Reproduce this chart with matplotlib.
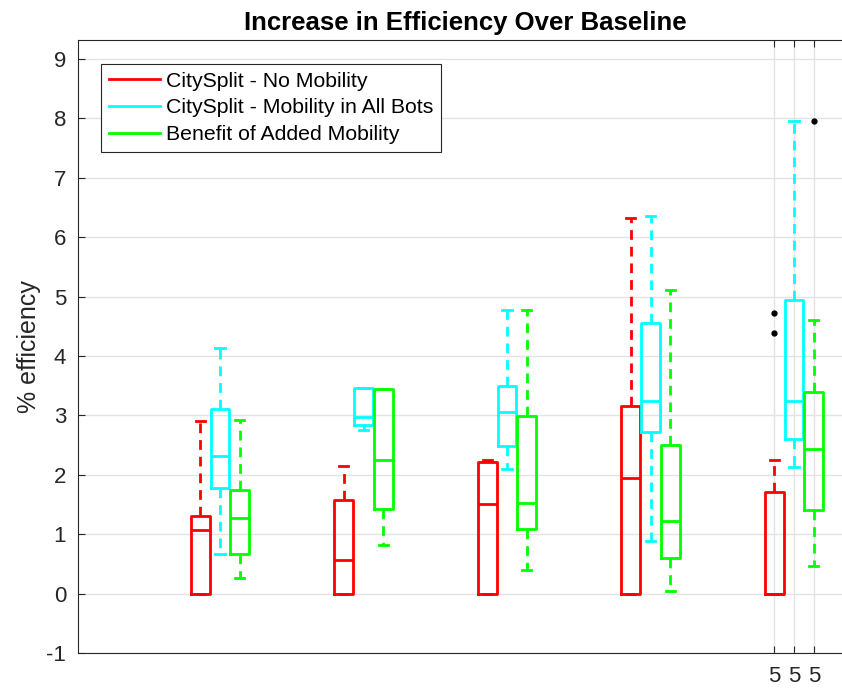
import matplotlib
matplotlib.use("Agg")
import matplotlib.pyplot as plt
from matplotlib.lines import Line2D

plt.rcParams['font.family'] = ['Liberation Sans', 'DejaVu Sans']

groups = [1, 2, 3, 4, 5]
series_names = ["CitySplit - No Mobility", "CitySplit - Mobility in All Bots", "Benefit of Added Mobility"]
series_colors = ["#ff0000", "#00ffff", "#00ff00"]

# per group: whislo, q1, median, q3, whishi
no_mobility = [
    [0.00, 0.00, 1.07, 1.30, 2.90],
    [0.00, 0.00, 0.56, 1.58, 2.15],
    [0.00, 0.00, 1.51, 2.21, 2.25],
    [0.00, 0.00, 1.95, 3.16, 6.32],
    [0.00, 0.00, 0.00, 1.71, 2.25],
]
no_mobility_fliers = [[], [], [], [], [4.38, 4.72]]

mobility_all = [
    [0.67, 1.77, 2.32, 3.10, 4.13],
    [2.75, 2.84, 2.97, 3.46, 3.46],
    [2.10, 2.48, 3.05, 3.49, 4.77],
    [0.89, 2.72, 3.24, 4.56, 6.36],
    [2.13, 2.61, 3.24, 4.95, 7.96],
]
mobility_all_fliers = [[], [], [], [], []]

benefit = [
    [0.27, 0.67, 1.28, 1.75, 2.92],
    [0.81, 1.42, 2.25, 3.45, 3.45],
    [0.39, 1.08, 1.53, 2.99, 4.77],
    [0.05, 0.60, 1.23, 2.51, 5.11],
    [0.46, 1.40, 2.43, 3.39, 4.60],
]
benefit_fliers = [[], [], [], [], [7.96]]

xtick_labels = ["5", "5", "5"]
yticks = [-1, 0, 1, 2, 3, 4, 5, 6, 7, 8, 9]

fig = plt.figure(figsize=(8.42, 6.92), dpi=100)
ax = fig.add_axes([78/842, 1-653/692, (852-78)/842, (653-40)/692])

offsets = [-0.138, 0.0, 0.138]
width = 0.13
all_series = [(no_mobility, no_mobility_fliers), (mobility_all, mobility_all_fliers), (benefit, benefit_fliers)]

for si, ((vals, fl), color) in enumerate(zip(all_series, series_colors)):
    stats = []
    for v, f in zip(vals, fl):
        stats.append(dict(whislo=v[0], q1=v[1], med=v[2], q3=v[3], whishi=v[4], fliers=f))
    pos = [g + offsets[si] for g in groups]
    ax.bxp(stats, positions=pos, widths=width, showfliers=True, manage_ticks=False,
           boxprops=dict(color=color, linewidth=2.0),
           medianprops=dict(color=color, linewidth=2.0),
           whiskerprops=dict(color=color, linewidth=2.0, linestyle=(0, (3.5, 2.5))),
           capprops=dict(color=color, linewidth=2.0),
           flierprops=dict(marker='o', markerfacecolor='black', markeredgecolor='black',
                           markersize=3.5, linestyle='none'),
           zorder=3)

ax.set_xlim(0.0105, 5.404)
ax.set_ylim(-1, 9.32)
ax.set_yticks(yticks)
ax.set_yticklabels([str(t) for t in yticks])
xt = [5 + o for o in offsets]
ax.set_xticks(xt)
ax.set_xticklabels(xtick_labels)

ax.grid(True, color='#e3e3e3', linewidth=1.0, zorder=0)
ax.set_axisbelow(True)
ax.tick_params(axis='both', direction='in', length=5, width=0.8, colors='#262626',
               labelsize=16, top=True, right=False)
ax.tick_params(axis='y', pad=8.5)
ax.tick_params(axis='x', pad=9)
for s in ['left', 'bottom', 'top']:
    ax.spines[s].set_color('#262626')
    ax.spines[s].set_linewidth(0.8)
ax.spines['right'].set_visible(False)

ax.set_ylabel("% efficiency", fontsize=18, color='#262626', labelpad=4)
ax.set_title("Increase in Efficiency Over Baseline", fontsize=18.5, fontweight='bold', pad=7)

handles = [Line2D([0], [0], color=c, linewidth=2) for c in series_colors]
leg = ax.legend(handles, series_names, loc='upper left', bbox_to_anchor=(23/774, 1-24/613),
                fontsize=15.3, frameon=True, fancybox=False, framealpha=1,
                edgecolor='#262626', handlelength=2.4, handletextpad=0.28,
                borderpad=0.36, labelspacing=0.36, borderaxespad=0)
leg.get_frame().set_linewidth(0.8)

fig.savefig("out.png", dpi=100)
